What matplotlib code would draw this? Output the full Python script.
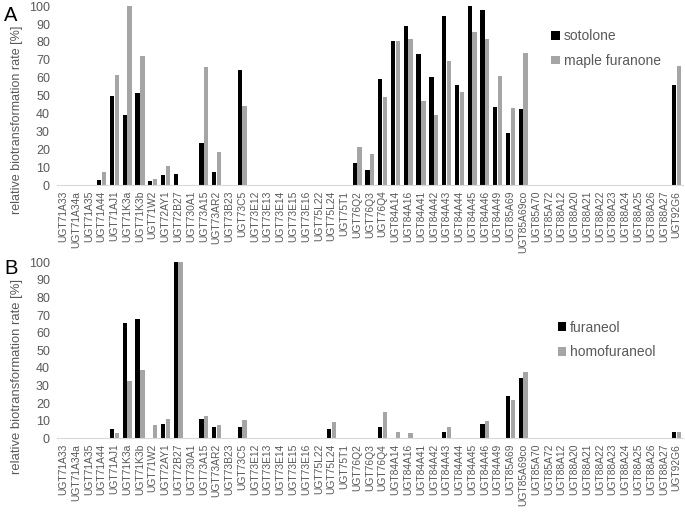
import matplotlib
matplotlib.use("Agg")
import matplotlib.pyplot as plt
import numpy as np

plt.rcParams['font.family'] = ['Liberation Sans', 'DejaVu Sans']

categories = ["UGT71A33", "UGT71A34a", "UGT71A35", "UGT71A44", "UGT71AJ1", "UGT71K3a",
              "UGT71K3b", "UGT71W2", "UGT72AY1", "UGT72B27", "UGT730A1", "UGT73A15",
              "UGT73AR2", "UGT73B23", "UGT73C5", "UGT73E12", "UGT73E13", "UGT73E14",
              "UGT73E15", "UGT73E16", "UGT75L22", "UGT75L24", "UGT75T1", "UGT76Q2",
              "UGT76Q3", "UGT76Q4", "UGT84A14", "UGT84A16", "UGT84A41", "UGT84A42",
              "UGT84A43", "UGT84A44", "UGT84A45", "UGT84A46", "UGT84A49", "UGT85A69",
              "UGT85A69co", "UGT85A70", "UGT85A72", "UGT88A12", "UGT88A20", "UGT88A21",
              "UGT88A22", "UGT88A23", "UGT88A24", "UGT88A25", "UGT88A26", "UGT88A27",
              "UGT92G6"]

sotolone = {"UGT71A44": 3, "UGT71AJ1": 50, "UGT71K3a": 39.3, "UGT71K3b": 51.6,
            "UGT71W2": 2.6, "UGT72AY1": 5.8, "UGT72B27": 6.5, "UGT73A15": 23.3,
            "UGT73AR2": 7.6, "UGT73C5": 64.2, "UGT76Q2": 12.5, "UGT76Q3": 8.4,
            "UGT76Q4": 59.4, "UGT84A14": 80.3, "UGT84A16": 88.8, "UGT84A41": 73,
            "UGT84A42": 60.5, "UGT84A43": 94.4, "UGT84A44": 55.7, "UGT84A45": 100,
            "UGT84A46": 97.6, "UGT84A49": 43.4, "UGT85A69": 28.9, "UGT85A69co": 42.6,
            "UGT92G6": 55.9}
maple_furanone = {"UGT71A44": 7.3, "UGT71AJ1": 61.8, "UGT71K3a": 100, "UGT71K3b": 72.3,
                  "UGT71W2": 3.4, "UGT72AY1": 10.6, "UGT73A15": 65.9, "UGT73AR2": 18.8,
                  "UGT73C5": 44.1, "UGT76Q2": 21.4, "UGT76Q3": 17.3, "UGT76Q4": 49.5,
                  "UGT84A14": 80.3, "UGT84A16": 81.9, "UGT84A41": 46.9, "UGT84A42": 39.1,
                  "UGT84A43": 69.1, "UGT84A44": 52.1, "UGT84A45": 85.3, "UGT84A46": 81.6,
                  "UGT84A49": 61.1, "UGT85A69": 43, "UGT85A69co": 73.7, "UGT92G6": 66.7}
furaneol = {"UGT71AJ1": 5.1, "UGT71K3a": 65.3, "UGT71K3b": 67.6, "UGT72AY1": 8.3,
            "UGT72B27": 100, "UGT73A15": 11, "UGT73AR2": 6.4, "UGT73C5": 6.4,
            "UGT75L24": 5.5, "UGT76Q4": 6.4, "UGT84A43": 3.6, "UGT84A46": 8.3,
            "UGT85A69": 23.9, "UGT85A69co": 34.5, "UGT92G6": 3.6}
homofuraneol = {"UGT71AJ1": 2.8, "UGT71K3a": 32.6, "UGT71K3b": 38.6, "UGT71W2": 7.6,
                "UGT72AY1": 11, "UGT72B27": 100, "UGT73A15": 12.5, "UGT73AR2": 7.6,
                "UGT73C5": 10.2, "UGT75L24": 9.3, "UGT76Q4": 15.2, "UGT84A14": 3.6,
                "UGT84A16": 3.0, "UGT84A43": 6.25, "UGT84A46": 10, "UGT85A69": 22,
                "UGT85A69co": 37.9, "UGT92G6": 3.6}

yticks = list(range(0, 101, 10))

TXT = '#595959'
BLACK = '#000000'
GRAY = '#a5a5a5'

W, H = 685, 513
fig = plt.figure(figsize=(6.85, 5.13), dpi=100)

def panel(rect, s1, s2, n1, n2, letter, letter_y, ylab_y, ylab_fs, leg_anchor):
    ax = fig.add_axes(rect)
    x = np.arange(len(categories))
    v1 = [s1.get(c, 0) for c in categories]
    v2 = [s2.get(c, 0) for c in categories]
    w = 0.34
    ax.bar(x - 0.19, v1, w, color=BLACK, label=n1)
    ax.bar(x + 0.19, v2, w, color=GRAY, label=n2)
    ax.set_xlim(-0.5, len(categories) - 0.5)
    ax.set_ylim(0, 100)
    ax.set_yticks(yticks)
    ax.set_xticks(x)
    ax.set_xticklabels(categories, rotation=90, fontsize=7.4, color=TXT)
    ax.tick_params(axis='y', labelsize=9, colors=TXT, length=0, pad=5)
    ax.tick_params(axis='x', length=0, pad=4)
    for sp in ['top', 'right', 'left']:
        ax.spines[sp].set_visible(False)
    ax.spines['bottom'].set_color('#d9d9d9')
    fig.text(17 / W, 1 - ylab_y / H, 'relative biotransformation rate [%]', rotation=90,
             fontsize=ylab_fs, color=TXT, ha='center', va='center')
    fig.text(4 / W, 1 - letter_y / H, letter, fontsize=14.5, color='black',
             ha='left', va='top')
    ax.legend(loc='upper left', bbox_to_anchor=leg_anchor, frameon=False, fontsize=10,
              labelcolor=TXT, handlelength=0.6, handleheight=0.6, handletextpad=0.3,
              labelspacing=0.75)
    return ax

panel([0.083, 0.639, 0.914, 0.349], sotolone, maple_furanone, 'sotolone', 'maple furanone',
      'A', 6, 120, 9, (0.77, 0.94))
panel([0.083, 0.1456, 0.914, 0.343], furaneol, homofuraneol, 'furaneol', 'homofuraneol',
      'B', 259, 377, 9.4, (0.78, 0.74))

fig.savefig('out.png', dpi=100)
